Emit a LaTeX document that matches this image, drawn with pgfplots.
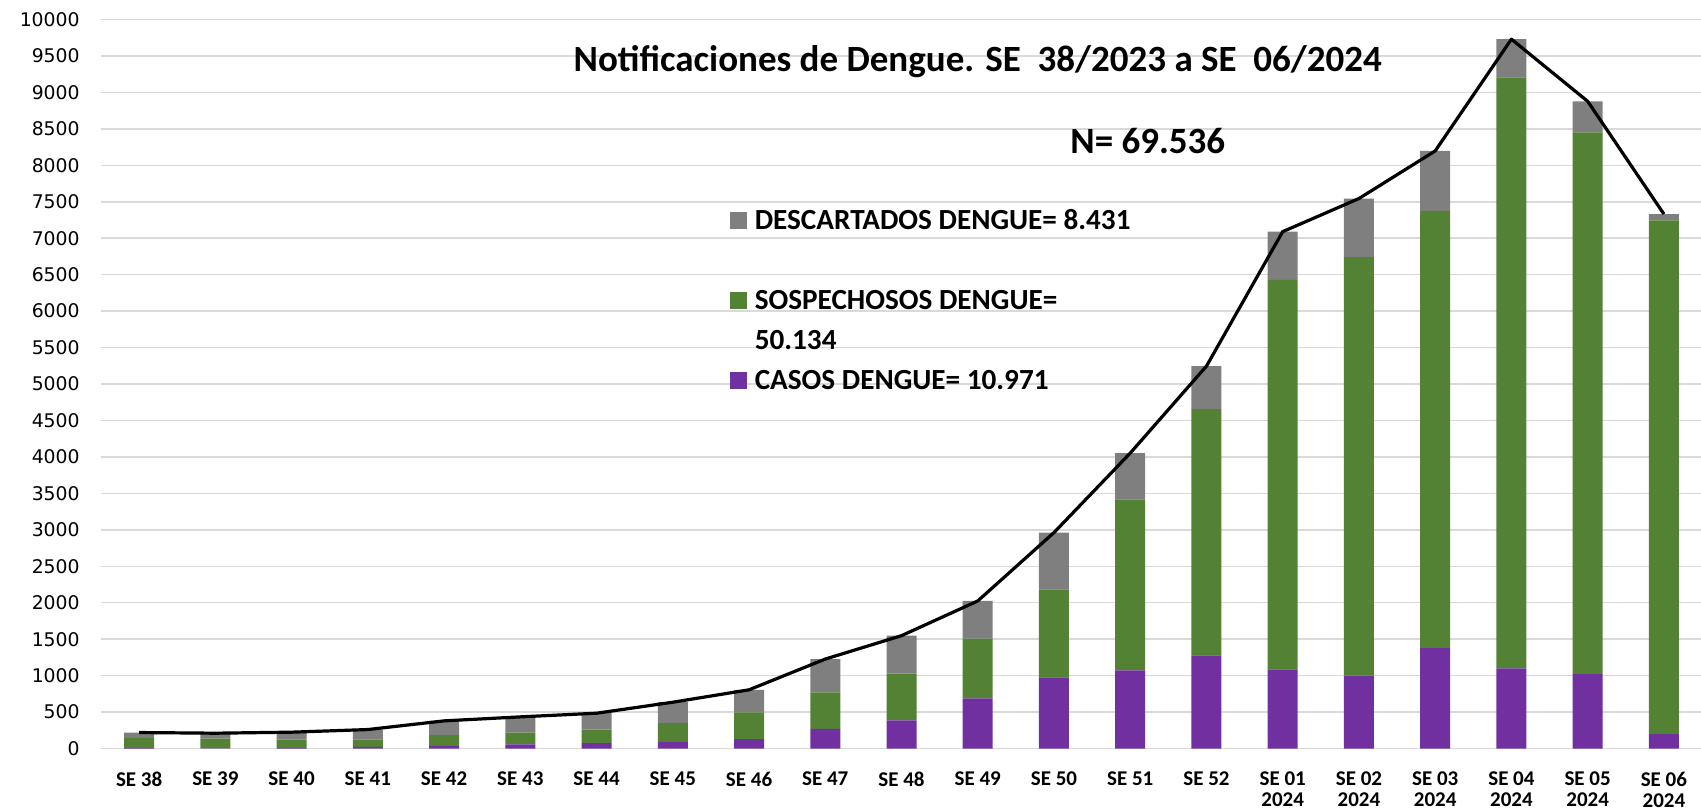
\documentclass[border=0pt]{standalone}
\usepackage{fontspec}
\setmainfont{Carlito}
\newfontfamily\dejavu{DejaVu Sans}
\usepackage{pgfplots}
\usepackage{pgfplotstable}
\pgfplotsset{compat=1.18}
\definecolor{casos}{HTML}{7030A0}
\definecolor{sosp}{HTML}{548235}
\definecolor{desc}{HTML}{7F7F7F}
\definecolor{gridc}{HTML}{D9D9D9}

\pgfplotstableread{
x casos sosp desc total
0 5 141 73 219
1 3 134 73 210
2 4 119 101 224
3 23 100 137 260
4 32 151 196 379
5 55 164 215 434
6 73 187 224 484
7 91 256 288 635
8 128 366 311 805
9 270 499 458 1227
10 385 641 522 1548
11 687 819 518 2024
12 975 1209 778 2962
13 1071 2345 636 4052
14 1277 3379 589 5245
15 1086 5344 660 7090
16 1001 5741 802 7544
17 1377 5997 823 8197
18 1100 8105 525 9730
19 1022 7431 425 8878
20 199 7047 85 7331
}\datatable

\pgfplotsset{
  base/.style={scale only axis, width=800.5pt, height=364.5pt,
    xmin=-0.5, xmax=20.5, ymin=0, ymax=10000,
    at={(0,0)}, anchor=south west}
}

\begin{document}
\begin{tikzpicture}
\begin{axis}[base,
  ybar stacked, bar width=15pt,
  axis line style={draw=none},
  major tick length=0pt,
  ytick distance=500,
  scaled y ticks=false,
  ymajorgrids, grid style={color=gridc, line width=0.75pt},
  xtick={0,...,20},
  xticklabels={SE 38,SE 39,SE 40,SE 41,SE 42,SE 43,SE 44,SE 45,SE 46,SE 47,SE 48,SE 49,SE 50,SE 51,SE 52,{SE 01\\2024},{SE 02\\2024},{SE 03\\2024},{SE 04\\2024},{SE 05\\2024},{SE 06\\2024}},
  xticklabel style={inner sep=0pt, anchor=north, yshift=-11.5pt, align=center, font=\bfseries\fontsize{10.5}{10.4}\selectfont},
  yticklabel style={inner sep=0pt, anchor=east, xshift=-10.5pt, font=\dejavu\fontsize{9.4}{11}\selectfont},
  yticklabel={\pgfmathprintnumber[assume math mode=true,1000 sep={},fixed]{\tick}},
  clip=false,
  legend style={draw=none, fill=none, inner sep=0pt, outer sep=0pt,
    at={(axis cs:7.75,7376)}, anchor=north west, row sep=10.8pt,
    nodes={inner sep=0pt, text height=9.2pt, text depth=0pt, font=\bfseries\fontsize{14.6}{17}\selectfont},
    /tikz/every odd column/.append style={column sep=4pt}},
  legend cell align=left,
]
\addplot[fill=casos, draw=none, forget plot] table[x=x, y=casos]{\datatable};
\addplot[fill=sosp, draw=none, forget plot] table[x=x, y=sosp]{\datatable};
\addplot[fill=desc, draw=none, forget plot] table[x=x, y=desc]{\datatable};

\addlegendimage{legend image code/.code={\fill[desc] (0pt,-4pt) rectangle (8pt,4pt);}}
\addlegendentry{DESCARTADOS DENGUE= 8.431}
\addlegendimage{empty legend}
\addlegendentry{}
\addlegendimage{legend image code/.code={\fill[sosp] (0pt,-4pt) rectangle (8pt,4pt);}}
\addlegendentry{SOSPECHOSOS DENGUE=}
\addlegendimage{empty legend}
\addlegendentry{50.134}
\addlegendimage{legend image code/.code={\fill[casos] (0pt,-4pt) rectangle (8pt,4pt);}}
\addlegendentry{CASOS DENGUE= 10.971}

\node[anchor=base, font=\bfseries\fontsize{18.5}{22}\selectfont] at (axis cs:11,9280) {Notificaciones de Dengue. SE\ \ 38/2023 a SE\ \ 06/2024};
\node[anchor=west, inner sep=0pt, font=\bfseries\fontsize{18.5}{22}\selectfont] at (axis cs:12.21,8333) {N= 69.536};
\end{axis}
\begin{axis}[base, hide axis, clip=false]
\addplot[black, line width=1.6pt, line join=round] table[x=x, y=total]{\datatable};
\end{axis}
\pgfresetboundingbox
\path[use as bounding box] (-50.5pt,-30.75pt) rectangle (800pt,374.25pt);
\end{tikzpicture}
\end{document}
